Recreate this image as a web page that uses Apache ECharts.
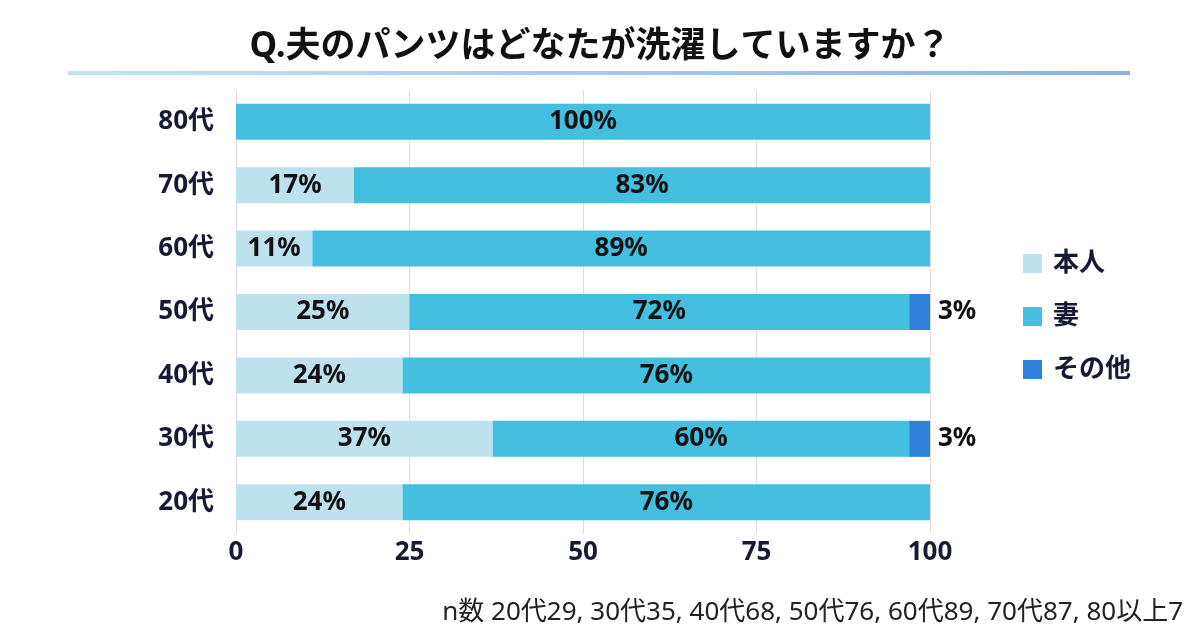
<!DOCTYPE html>
<html><head><meta charset="utf-8">
<script src="https://cdn.jsdelivr.net/npm/echarts@6/dist/echarts.min.js"></script>
<style>html,body{margin:0;padding:0;background:#fff}#c{width:1200px;height:630px}</style>
</head><body><div id="c"></div>
<script>
const categories = ['20代','30代','40代','50代','60代','70代','80代'];
const honnin = [24, 37, 24, 25, 11, 17, 0];
const tsuma = [76, 60, 76, 72, 89, 83, 100];
const sonota = [0, 3, 0, 3, 0, 0, 0];
const xTicks = [0, 25, 50, 75, 100];
const titleText = 'Q.夫のパンツはどなたが洗濯していますか？';
const noteText = 'n数 20代29, 30代35, 40代68, 50代76, 60代89, 70代87, 80以上7';

const FONT = '"Noto Sans", "Noto Sans CJK JP", sans-serif';
const DARK = '#161a35';
const chart = echarts.init(document.getElementById('c'));
const inLabel = {show:true, position:'inside', color:'#111', fontSize:26, fontWeight:'bold', fontFamily:FONT,
  formatter: p => p.value > 0 ? p.value + '%' : ''};
chart.setOption({
  animation:false,
  title:[{text:titleText, left:'center', top:25, textStyle:{fontSize:35, fontWeight:'bold', color:'#111', fontFamily:FONT}},
         {text:noteText, right:12, top:595, textStyle:{fontSize:26, fontWeight:'normal', color:'#222', fontFamily:FONT}}],
  graphic:[{type:'rect', shape:{x:68, y:71, width:1062, height:4},
    style:{fill:new echarts.graphic.LinearGradient(0,0,1,0,[{offset:0,color:'#c4e3ef'},{offset:1,color:'#8eb0e6'}])}}],
  legend:{orient:'vertical', left:1018, top:245, itemWidth:19, itemHeight:19, itemGap:26, icon:'rect',
    textStyle:{fontSize:26, lineHeight:27, fontWeight:'bold', color:DARK, fontFamily:FONT, padding:[0,0,0,6]},
    data:['本人','妻','その他']},
  grid:{left:236, right:270, top:90, bottom:96},
  xAxis:{type:'value', min:0, max:100, interval:25,
    axisLine:{show:false}, axisTick:{show:false},
    splitLine:{lineStyle:{color:'#dddddd', width:1}},
    axisLabel:{fontSize:26, fontWeight:'bold', color:DARK, fontFamily:FONT, margin:6,
      formatter: v => xTicks.includes(v) ? String(v) : ''}},
  yAxis:{type:'category', data:categories, axisLine:{show:false}, axisTick:{show:false},
    axisLabel:{fontSize:26, fontWeight:'bold', color:DARK, fontFamily:FONT, margin:22}},
  series:[
    {name:'本人', type:'bar', stack:'a', data:honnin, barWidth:36, itemStyle:{color:'#bde2ee'}, label:inLabel},
    {name:'妻', type:'bar', stack:'a', data:tsuma, barWidth:36, itemStyle:{color:'#44bfdf'}, label:inLabel},
    {name:'その他', type:'bar', stack:'a', data:sonota, barWidth:36, itemStyle:{color:'#2f80d8'},
      label:{show:true, position:'right', distance:8, color:'#111', fontSize:26, fontWeight:'bold', fontFamily:FONT,
        formatter: p => p.value > 0 ? p.value + '%' : ''}}
  ]
});
</script></body></html>
